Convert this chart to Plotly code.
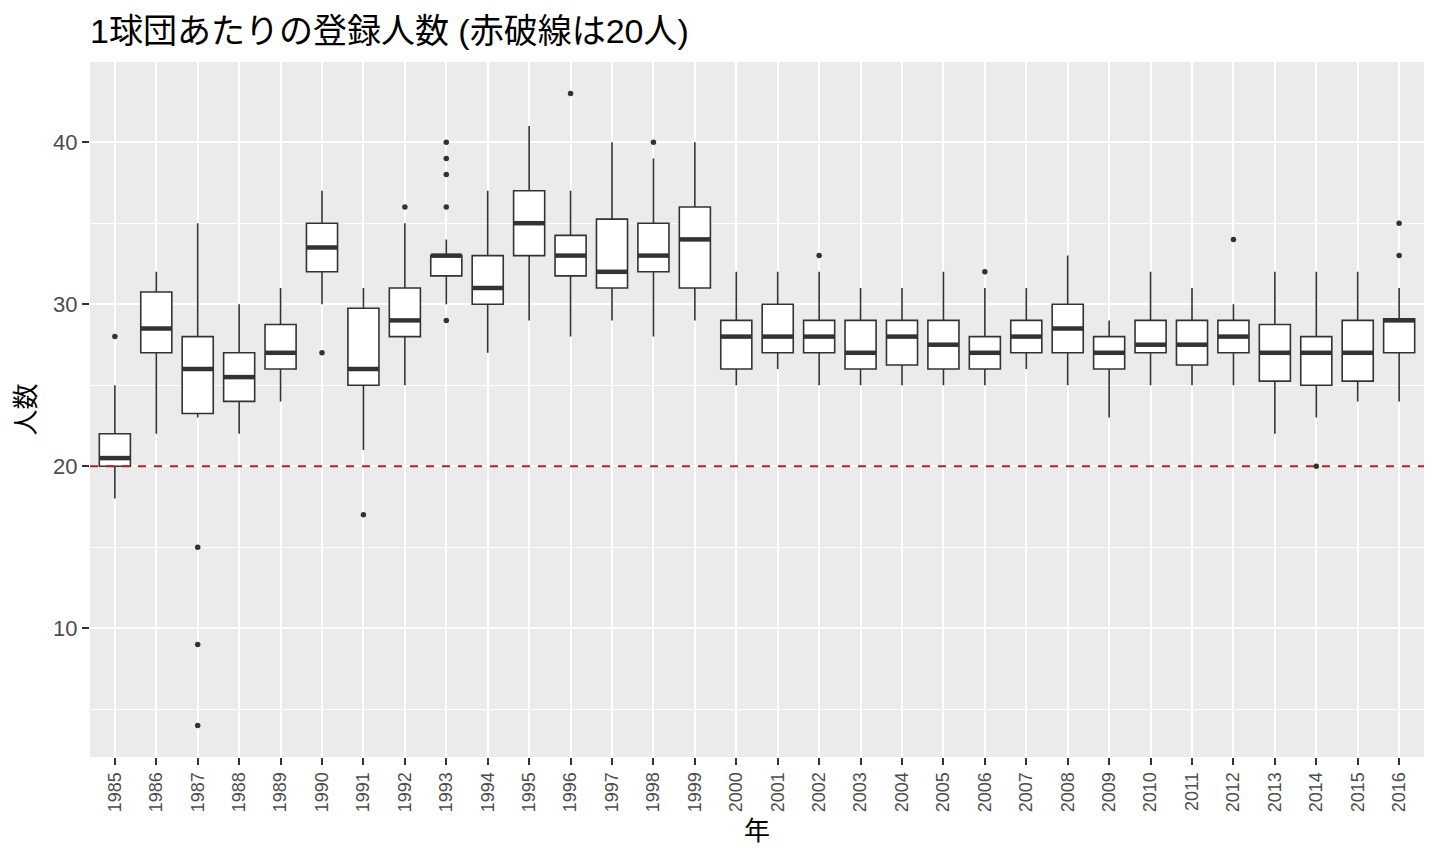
import plotly.graph_objects as go

# box statistics (registered players per team, by year)
years = [str(y) for y in range(1985, 2017)]
q1 = [20, 27, 23.25, 24, 26, 32, 25, 28, 31.75, 30, 33, 31.75, 31, 32, 31, 26,
      27, 27, 26, 26.25, 26, 26, 27, 27, 26, 27, 26.25, 27, 25.25, 25, 25.25, 27]
median = [20.5, 28.5, 26, 25.5, 27, 33.5, 26, 29, 33, 31, 35, 33, 32, 33, 34, 28,
          28, 28, 27, 28, 27.5, 27, 28, 28.5, 27, 27.5, 27.5, 28, 27, 27, 27, 29]
q3 = [22, 30.75, 28, 27, 28.75, 35, 29.75, 31, 33, 33, 37, 34.25, 35.25, 35, 36, 29,
      30, 29, 29, 29, 29, 28, 29, 30, 28, 29, 29, 29, 28.75, 28, 29, 29.1]
lower = [18, 22, 23, 22, 24, 30, 21, 25, 30, 27, 29, 28, 29, 28, 29, 25,
         26, 25, 25, 25, 25, 25, 26, 25, 23, 25, 25, 25, 22, 23, 24, 24]
upper = [25, 32, 35, 30, 31, 37, 31, 35, 34, 37, 41, 37, 40, 39, 40, 32,
         32, 32, 31, 31, 32, 31, 31, 33, 29, 32, 31, 30, 32, 32, 32, 31]

# outliers
out_year = ['1985', '1987', '1987', '1987', '1990', '1991', '1992',
            '1993', '1993', '1993', '1993', '1993', '1996', '1998',
            '2002', '2006', '2012', '2014', '2016', '2016']
out_val = [28, 15, 9, 4, 27, 17, 36,
           40, 39, 38, 36, 29, 43, 40,
           33, 32, 34, 20, 35, 33]

dark = '#333333'
font_family = 'Liberation Sans, Noto Sans CJK JP, sans-serif'

box = go.Box(
    x=years, q1=q1, median=median, q3=q3,
    lowerfence=lower, upperfence=upper,
    boxpoints=False, whiskerwidth=0,
    fillcolor='white', line=dict(color=dark, width=1.6),
    width=0.75, hoverinfo='skip', showlegend=False,
)

# thicker median bar like ggplot
med = go.Scatter(
    x=years, y=median, mode='markers',
    marker=dict(symbol='line-ew', size=22, line=dict(color=dark, width=4.5)),
    showlegend=False, hoverinfo='skip',
)

outl = go.Scatter(
    x=out_year, y=out_val, mode='markers',
    marker=dict(color=dark, size=5.5),
    showlegend=False,
)

fig = go.Figure(data=[box, med, outl])

fig.add_shape(type='line', xref='paper', x0=0, x1=1, yref='y', y0=20, y1=20,
              line=dict(color='#B22222', width=2, dash='8px,8px'), layer='above')

# page body has an 8px margin, so the figure is a bit smaller than the window
fig.update_layout(
    width=1424, height=848,
    margin=dict(l=82, r=8, t=54, b=99),
    paper_bgcolor='white', plot_bgcolor='#EBEBEB',
    font=dict(family=font_family, color='black'),
    title=dict(text='1球団あたりの登録人数 (赤破線は20人)', x=82/1424, xref='container',
               xanchor='left', y=1 - 23/848, yref='container', yanchor='middle',
               font=dict(size=34, color='black', family=font_family)),
    xaxis=dict(
        type='category', range=[-0.6, 31.6], tickangle=-90,
        showgrid=True, gridcolor='white', gridwidth=1.5, zeroline=False,
        ticks='outside', ticklen=7, tickwidth=1.6, tickcolor=dark,
        tickfont=dict(size=18, color='#4D4D4D'),
        title=dict(text='年', font=dict(size=26, color='black'), standoff=10),
        automargin=False,
    ),
    yaxis=dict(
        range=[2.05, 44.95], tick0=0, dtick=10,
        showgrid=True, gridcolor='white', gridwidth=1.5, zeroline=False,
        ticks='outside', ticklen=7, tickwidth=1.6, tickcolor=dark,
        tickfont=dict(size=22, color='#4D4D4D'),
        minor=dict(tick0=5, dtick=10, showgrid=True, gridcolor='white', gridwidth=0.7),
        title=dict(text='人数', font=dict(size=26, color='black'), standoff=10),
        automargin=False,
    ),
)

fig.write_html('out.html')
